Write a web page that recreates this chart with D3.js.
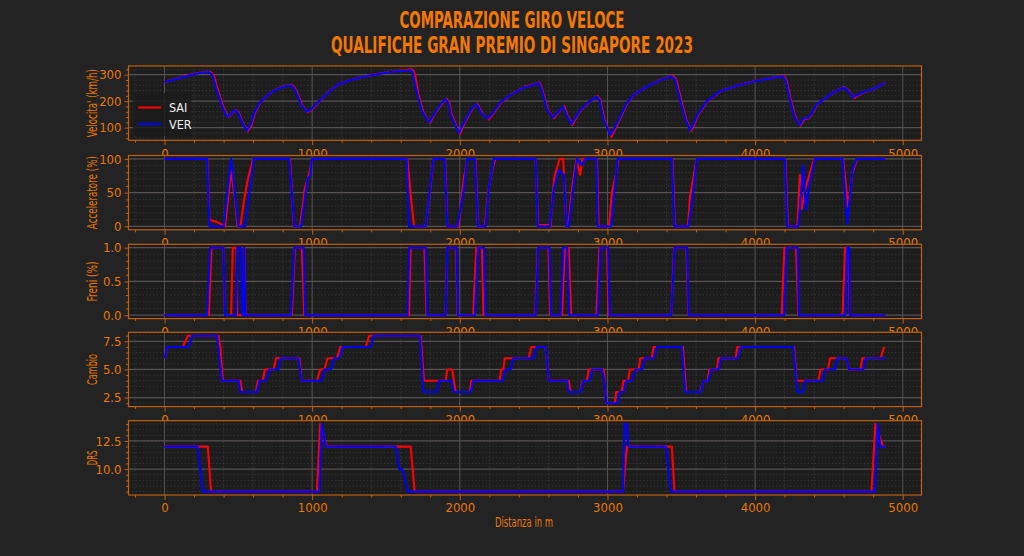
<!DOCTYPE html>
<html>
<head>
<meta charset="utf-8">
<script src="https://cdn.jsdelivr.net/npm/d3@7"></script>
<style>
body { margin: 0; background: #232323; }
text { font-family: "Liberation Sans Narrow", "DejaVu Sans Condensed", "Roboto", sans-serif; }
</style>
</head>
<body>
<div id="chart"></div>
<script>
// giro veloce qualifiche Singapore 2023, SAI vs VER

var titleLines = ["COMPARAZIONE GIRO VELOCE", "QUALIFICHE GRAN PREMIO DI SINGAPORE 2023"];
var drivers = ["SAI", "VER"];
var distTicks = [0, 1000, 2000, 3000, 4000, 5000];

// velocita' (km/h)
var saiSpeed = [[0,270],[100,288],[200,303],[293,312],[318,308],[335,294],[368,231],[400,175],[430,140],[455,152],[478,166],[500,160],[530,118],[562,86],[590,112],[612,155],[645,192],[680,214],[724,234],[770,248],[814,257],[860,262],[878,253],[896,236],[930,186],[968,158],[994,167],[1018,180],[1064,207],[1108,234],[1176,263],[1244,277],[1311,288],[1394,298],[1469,305],[1534,311],[1604,316],[1672,320],[1686,316],[1698,296],[1720,224],[1752,160],[1797,118],[1820,140],[1842,162],[1880,192],[1910,210],[1930,190],[1944,150],[2000,76],[2026,110],[2056,142],[2090,176],[2118,191],[2157,150],[2196,131],[2236,160],[2281,196],[2349,226],[2439,253],[2529,269],[2540,271],[2562,236],[2596,166],[2638,136],[2670,160],[2706,182],[2732,142],[2762,110],[2790,140],[2822,168],[2875,196],[2934,219],[2952,205],[2980,128],[3026,65],[3052,95],[3092,142],[3138,196],[3182,226],[3228,242],[3296,264],[3386,286],[3442,297],[3466,281],[3510,180],[3536,128],[3566,87],[3586,110],[3611,145],[3678,201],[3768,238],[3903,263],[4039,280],[4125,289],[4196,296],[4215,275],[4242,204],[4276,134],[4308,108],[4330,131],[4364,136],[4394,160],[4421,188],[4511,226],[4601,254],[4626,244],[4670,212],[4706,224],[4738,234],[4805,247],[4883,270]];
var verSpeed = [[0,271],[100,287],[200,302],[293,311],[312,306],[327,294],[360,231],[394,175],[424,141],[450,150],[473,166],[496,159],[525,120],[557,88],[585,115],[608,156],[640,190],[676,212],[720,232],[766,246],[810,255],[856,260],[873,252],[890,237],[924,187],[964,160],[990,168],[1014,181],[1060,206],[1104,231],[1172,262],[1240,276],[1307,287],[1390,297],[1465,304],[1530,310],[1600,314],[1667,317],[1680,312],[1686,292],[1713,224],[1746,161],[1792,120],[1815,140],[1837,161],[1870,188],[1904,209],[1925,190],[1938,149],[1994,80],[2020,110],[2051,142],[2085,175],[2114,189],[2152,151],[2190,134],[2230,160],[2276,196],[2344,224],[2434,251],[2524,267],[2535,270],[2558,236],[2591,167],[2632,139],[2665,158],[2700,180],[2727,142],[2756,114],[2785,140],[2817,167],[2870,195],[2929,217],[2947,205],[2974,130],[3020,72],[3045,95],[3087,142],[3132,194],[3177,224],[3222,240],[3290,262],[3380,284],[3436,294],[3459,281],[3504,181],[3530,130],[3560,90],[3580,110],[3605,144],[3673,200],[3763,237],[3898,262],[4034,279],[4120,288],[4191,294],[4209,275],[4236,206],[4270,137],[4304,110],[4326,134],[4360,137],[4390,160],[4417,187],[4507,225],[4597,252],[4620,245],[4664,215],[4700,225],[4732,234],[4800,246],[4883,269]];

// acceleratore (%)
var saiThrottle = [[0,100],[290,100],[304,10],[360,6],[395,2],[410,0],[430,40],[451,85],[458,71],[470,50],[476,44],[494,0],[514,0],[540,41],[565,71],[600,100],[850,100],[876,0],[918,0],[950,56],[985,83],[1000,100],[1645,100],[1670,41],[1690,0],[1769,0],[1800,56],[1821,100],[1900,100],[1915,0],[1990,0],[2030,76],[2037,81],[2050,100],[2106,100],[2123,0],[2170,0],[2195,56],[2217,81],[2240,100],[2513,100],[2530,2],[2600,2],[2613,0],[2640,74],[2677,100],[2700,100],[2722,0],[2735,0],[2760,56],[2790,100],[2815,76],[2830,100],[2928,100],[2940,0],[3010,0],[3030,50],[3060,80],[3075,100],[3440,100],[3456,0],[3545,0],[3560,46],[3593,86],[3605,100],[4205,100],[4222,0],[4286,0],[4303,76],[4315,26],[4340,56],[4400,100],[4596,100],[4630,29],[4660,80],[4690,100],[4883,100]];
var verThrottle = [[0,100],[288,100],[304,0],[401,0],[451,100],[500,0],[545,0],[604,100],[845,100],[879,0],[924,0],[969,71],[987,76],[998,100],[1640,100],[1656,0],[1769,0],[1821,100],[1897,100],[1915,0],[1983,0],[2028,56],[2050,100],[2102,100],[2123,0],[2174,0],[2197,58],[2231,100],[2513,100],[2528,0],[2609,0],[2637,56],[2670,83],[2704,76],[2722,0],[2738,0],[2767,56],[2794,100],[2828,91],[2851,100],[2925,100],[2934,0],[3024,0],[3069,100],[3436,100],[3454,0],[3549,0],[3583,56],[3605,100],[4202,100],[4218,0],[4293,0],[4326,90],[4344,24],[4371,66],[4405,100],[4592,100],[4624,4],[4660,84],[4687,100],[4883,100]];

// freni
var saiBrake = [[0,0],[300,0],[318,1],[399,1],[410,0],[451,0],[462,1],[487,1],[492,0],[532,0],[541,1],[548,0],[862,0],[883,1],[930,1],[946,0],[1656,0],[1667,1],[1760,1],[1775,0],[1904,0],[1915,1],[1975,1],[1985,0],[2091,0],[2111,1],[2150,1],[2160,0],[2511,0],[2529,1],[2600,1],[2612,0],[2693,0],[2711,1],[2738,1],[2754,0],[2925,0],[2945,1],[2997,1],[3008,0],[3432,0],[3452,1],[3535,1],[3549,0],[4180,0],[4198,1],[4277,1],[4293,0],[4592,0],[4610,1],[4630,1],[4642,0],[4883,0]];
var verBrake = [[0,0],[288,0],[309,1],[399,1],[410,0],[484,0],[493,1],[518,1],[527,0],[535,0],[540,1],[547,0],[856,0],[879,1],[942,1],[953,0],[1645,0],[1658,1],[1769,1],[1780,0],[1904,0],[1915,1],[1978,1],[1987,0],[2102,0],[2123,1],[2163,1],[2174,0],[2513,0],[2531,1],[2607,1],[2618,0],[2682,0],[2700,1],[2727,1],[2742,0],[2934,0],[2952,1],[3004,1],[3015,0],[3432,0],[3454,1],[3538,1],[3551,0],[4196,0],[4214,1],[4288,1],[4297,0],[4608,0],[4624,1],[4637,1],[4642,0],[4883,0]];

// cambio
var saiGear = [[0,6],[18,7],[124,7],[158,8],[365,8],[378,7],[394,4],[514,4],[525,3],[620,3],[631,4],[665,4],[680,5],[739,5],[755,6],[913,6],[928,4],[1032,4],[1054,5],[1082,5],[1104,6],[1167,6],[1190,7],[1363,7],[1386,8],[1735,8],[1757,4],[1904,4],[1915,5],[1949,5],[1971,3],[2068,3],[2077,4],[2270,4],[2280,5],[2295,5],[2305,6],[2467,6],[2483,7],[2580,7],[2603,4],[2738,4],[2750,3],[2817,3],[2830,4],[2860,4],[2873,5],[2975,5],[2993,2],[3049,2],[3060,3],[3095,3],[3108,4],[3140,4],[3152,5],[3211,5],[3222,6],[3300,6],[3312,7],[3511,7],[3533,3],[3628,3],[3650,4],[3680,4],[3690,5],[3740,5],[3752,6],[3868,6],[3880,7],[4264,7],[4281,4],[4428,4],[4443,5],[4495,5],[4507,6],[4619,6],[4637,5],[4713,5],[4727,6],[4850,6],[4874,7]];
var verGear = [[0,6],[18,7],[164,7],[187,8],[356,8],[388,4],[502,4],[514,3],[626,3],[642,4],[687,4],[710,5],[771,5],[784,6],[906,6],[928,4],[1064,4],[1082,5],[1127,5],[1149,6],[1183,6],[1205,7],[1397,7],[1415,8],[1730,8],[1753,3],[1843,3],[1859,4],[1942,4],[1960,3],[2073,3],[2091,4],[2290,4],[2310,5],[2344,5],[2362,6],[2501,6],[2519,7],[2580,7],[2603,4],[2727,4],[2738,3],[2817,3],[2835,4],[2880,4],[2896,5],[2963,5],[2979,4],[2993,2],[3069,2],[3083,3],[3110,3],[3128,4],[3166,4],[3189,5],[3234,5],[3252,6],[3313,6],[3335,7],[3504,7],[3527,3],[3632,3],[3650,4],[3684,4],[3700,5],[3752,5],[3768,6],[3880,6],[3903,7],[4259,7],[4286,3],[4326,3],[4338,4],[4457,4],[4473,5],[4540,5],[4556,6],[4619,6],[4637,5],[4732,5],[4750,6],[4883,6]];

// DRS
var saiDrs = [[0,12],[293,12],[315,8],[1032,8],[1054,14],[1099,12],[1667,12],[1694,8],[3105,8],[3132,12],[3436,12],[3454,8],[4788,8],[4815,14],[4867,12],[4883,12]];
var verDrs = [[0,12],[225,12],[259,8],[1048,8],[1064,14],[1093,12],[1566,12],[1589,10],[1611,10],[1645,8],[3105,8],[3116,14],[3132,14],[3143,12],[3396,12],[3430,8],[4811,8],[4829,14],[4849,12],[4883,12]];

var yLabels = ["Velocita' (km/h)", "Acceleratore (%)", "Freni (%)", "Cambio", "DRS"];
var yLabelLen = [68, 73, 40, 31, 15];
var yTicks = [[100, 200, 300], [0, 50, 100], [0, 0.5, 1], [2.5, 5, 7.5], [10, 12.5]];
var yMinorStep = [20, 10, 0.1, 0.5, 0.5];
var yFormats = ["d", "d", ".1f", ".1f", ".1f"];

var width = 1024, height = 556;
var left = 128.5, right = 921.5;
var panelTop = [66, 155.5, 244.3, 332.3, 420.7];
var panelH = 74.3;

var colBg = "#232323", colPanel = "#1d1d1d", colSpine = "#c0600c",
    colText = "#e87800", colTitle = "#f47800";
var colDriver = ["#ff0000", "#0000ff"];

var panels = [
  {sai: saiSpeed, ver: verSpeed},
  {sai: saiThrottle, ver: verThrottle},
  {sai: saiBrake, ver: verBrake},
  {sai: saiGear, ver: verGear},
  {sai: saiDrs, ver: verDrs}
];

var svg = d3.select("#chart").append("svg")
    .attr("width", width)
    .attr("height", height)
    .style("background", colBg);

// x domain with 5% margins like matplotlib
var xMax = d3.max(verSpeed, function(d) { return d[0]; });
var x = d3.scaleLinear()
    .domain([-0.05 * xMax, 1.05 * xMax])
    .range([left, right]);

var xMinor = d3.range(-200, 5200, 200).filter(function(v) {
    return v % 1000 != 0 && v > x.domain()[0] && v < x.domain()[1];
});

// title
svg.selectAll(".title")
    .data(titleLines)
  .enter().append("text")
    .attr("class", "title")
    .attr("x", 512)
    .attr("y", function(d, i) { return 28 + i * 25; })
    .attr("text-anchor", "middle")
    .attr("textLength", function(d, i) { return i == 0 ? 225 : 362; })
    .attr("lengthAdjust", "spacingAndGlyphs")
    .style("font-size", "23px")
    .style("font-weight", "bold")
    .style("fill", colTitle)
    .text(function(d) { return d; });

panels.forEach(function(p, i) {
    var top = panelTop[i];
    var all = p.sai.concat(p.ver);
    var ext = d3.extent(all, function(d) { return d[1]; });
    var pad = (ext[1] - ext[0]) * 0.05;
    var y = d3.scaleLinear()
        .domain([ext[0] - pad, ext[1] + pad])
        .range([top + panelH, top]);

    var yMin = [];
    var st = yMinorStep[i];
    for (var v = Math.ceil(y.domain()[0] / st) * st; v <= y.domain()[1]; v += st) {
        var r = Math.round(v * 1000) / 1000;
        if (yTicks[i].indexOf(r) < 0) yMin.push(r);
    }

    var g = svg.append("g").attr("class", "panel");

    g.append("rect")
        .attr("x", left).attr("y", top)
        .attr("width", right - left).attr("height", panelH)
        .style("fill", colPanel);

    // minor grid
    g.selectAll(".vminor").data(xMinor).enter().append("line")
        .attr("x1", function(d) { return x(d); }).attr("x2", function(d) { return x(d); })
        .attr("y1", top).attr("y2", top + panelH)
        .style("stroke", "#3a3a3a").style("stroke-width", 0.8)
        .style("stroke-dasharray", "1.5,2");
    g.selectAll(".hminor").data(yMin).enter().append("line")
        .attr("x1", left).attr("x2", right)
        .attr("y1", function(d) { return y(d); }).attr("y2", function(d) { return y(d); })
        .style("stroke", "#3a3a3a").style("stroke-width", 0.8)
        .style("stroke-dasharray", "1.5,2");

    // major grid
    g.selectAll(".vmajor").data(distTicks).enter().append("line")
        .attr("x1", function(d) { return x(d); }).attr("x2", function(d) { return x(d); })
        .attr("y1", top).attr("y2", top + panelH)
        .style("stroke", "#575252").style("stroke-width", 1);
    g.selectAll(".hmajor").data(yTicks[i]).enter().append("line")
        .attr("x1", left).attr("x2", right)
        .attr("y1", function(d) { return y(d); }).attr("y2", function(d) { return y(d); })
        .style("stroke", "#575252").style("stroke-width", 1.2);

    var line = d3.line()
        .x(function(d) { return x(d[0]); })
        .y(function(d) { return y(d[1]); });

    [p.sai, p.ver].forEach(function(s, k) {
        g.append("path")
            .datum(s)
            .attr("d", line)
            .style("fill", "none")
            .style("stroke", colDriver[k])
            .style("stroke-width", 2.1)
            .style("stroke-linejoin", "round");
    });

    // spines
    g.append("rect")
        .attr("x", left).attr("y", top)
        .attr("width", right - left).attr("height", panelH)
        .style("fill", "none")
        .style("stroke", colSpine)
        .style("stroke-width", 1.2);

    // x axis
    g.append("g")
        .attr("transform", "translate(0," + (top + panelH) + ")")
        .call(d3.axisBottom(x).tickValues(distTicks).tickSize(5).tickPadding(3)
            .tickFormat(d3.format("d")));
    g.append("g")
        .attr("transform", "translate(0," + (top + panelH) + ")")
        .call(d3.axisBottom(x).tickValues(xMinor).tickSize(2.5).tickFormat(""));

    // y axis
    g.append("g")
        .attr("transform", "translate(" + left + ",0)")
        .call(d3.axisLeft(y).tickValues(yTicks[i]).tickSize(4).tickPadding(3)
            .tickFormat(d3.format(yFormats[i])));
    g.append("g")
        .attr("transform", "translate(" + left + ",0)")
        .call(d3.axisLeft(y).tickValues(yMin).tickSize(2.5).tickFormat(""));

    g.selectAll(".domain").remove();
    g.selectAll(".tick line").style("stroke", colSpine);
    g.selectAll(".tick text")
        .style("fill", colText)
        .style("font-size", "13px");

    g.append("text")
        .attr("transform", "translate(97," + (top + panelH / 2) + ") rotate(-90)")
        .attr("text-anchor", "middle")
        .attr("textLength", yLabelLen[i])
        .attr("lengthAdjust", "spacingAndGlyphs")
        .style("fill", colText)
        .style("font-size", "14px")
        .text(yLabels[i]);
});

svg.append("text")
    .attr("x", 524)
    .attr("y", 527)
    .attr("text-anchor", "middle")
    .attr("textLength", 58)
    .attr("lengthAdjust", "spacingAndGlyphs")
    .style("fill", colText)
    .style("font-size", "14.5px")
    .text("Distanza in m");

// legend
var legend = svg.append("g").attr("class", "legend");
legend.append("rect")
    .attr("x", 133).attr("y", 93)
    .attr("width", 58).attr("height", 43)
    .style("fill", "#1b1b1b")
    .style("opacity", 0.85);
drivers.forEach(function(name, k) {
    legend.append("line")
        .attr("x1", 138).attr("x2", 161)
        .attr("y1", 107.5 + k * 16.5).attr("y2", 107.5 + k * 16.5)
        .style("stroke", colDriver[k])
        .style("stroke-width", 2.1);
    legend.append("text")
        .attr("x", 169).attr("y", 112 + k * 16.5)
        .style("fill", "#eeeeee")
        .style("font-size", "12.5px")
        .text(name);
});
</script>
</body>
</html>
